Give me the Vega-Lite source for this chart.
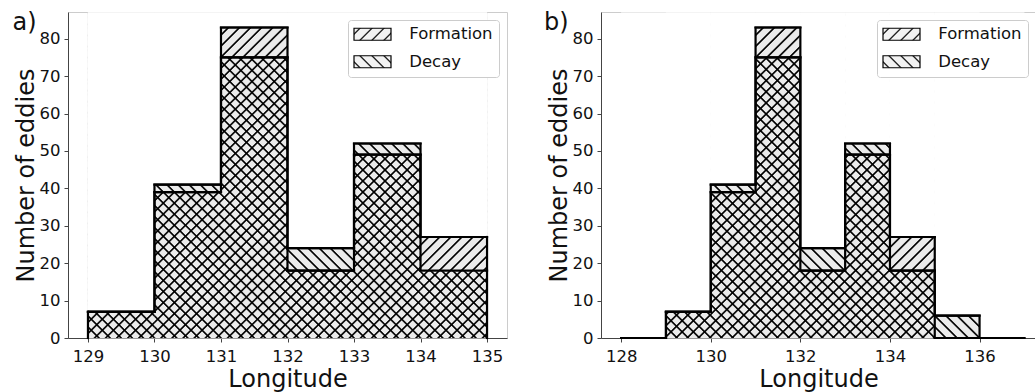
{
"$schema":"https://vega.github.io/schema/vega-lite/v6.json",
"padding":{"left":12,"top":10,"right":0,"bottom":0},
"params":[
{"name":"legF","value":{"gradient":"linear","x1":0,"y1":0,"x2":1.1983,"y2":0.3886,"stops":[{"offset":0,"color":"#f2f2f2"},{"offset":0.0885,"color":"#f2f2f2"},{"offset":0.1225,"color":"#000"},{"offset":0.1565,"color":"#f2f2f2"},{"offset":0.3334,"color":"#f2f2f2"},{"offset":0.3674,"color":"#000"},{"offset":0.4014,"color":"#f2f2f2"},{"offset":0.5783,"color":"#f2f2f2"},{"offset":0.6123,"color":"#000"},{"offset":0.6463,"color":"#f2f2f2"},{"offset":0.8232,"color":"#f2f2f2"},{"offset":0.8572,"color":"#000"},{"offset":0.8912,"color":"#f2f2f2"},{"offset":1,"color":"#f2f2f2"}]}},
{"name":"legD","value":{"gradient":"linear","x1":0,"y1":1,"x2":1.1983,"y2":0.6114,"stops":[{"offset":0,"color":"#f2f2f2"},{"offset":0.0885,"color":"#f2f2f2"},{"offset":0.1225,"color":"#000"},{"offset":0.1565,"color":"#f2f2f2"},{"offset":0.3334,"color":"#f2f2f2"},{"offset":0.3674,"color":"#000"},{"offset":0.4014,"color":"#f2f2f2"},{"offset":0.5783,"color":"#f2f2f2"},{"offset":0.6123,"color":"#000"},{"offset":0.6463,"color":"#f2f2f2"},{"offset":0.8232,"color":"#f2f2f2"},{"offset":0.8572,"color":"#000"},{"offset":0.8912,"color":"#f2f2f2"},{"offset":1,"color":"#f2f2f2"}]}},
{"name":"fsA","value":{"gradient":"linear","x1":0,"y1":0,"x2":0.23585,"y2":1.15593,"stops":[
{"offset":0,"color":"#000"},{"offset":0.0044,"color":"rgba(0,0,0,0)"},
{"offset":0.0238,"color":"rgba(0,0,0,0)"},{"offset":0.0282,"color":"#000"},{"offset":0.0326,"color":"rgba(0,0,0,0)"},
{"offset":0.0521,"color":"rgba(0,0,0,0)"},{"offset":0.0565,"color":"#000"},{"offset":0.0609,"color":"rgba(0,0,0,0)"},
{"offset":0.0803,"color":"rgba(0,0,0,0)"},{"offset":0.0847,"color":"#000"},{"offset":0.0891,"color":"rgba(0,0,0,0)"},
{"offset":0.1086,"color":"rgba(0,0,0,0)"},{"offset":0.1130,"color":"#000"},{"offset":0.1174,"color":"rgba(0,0,0,0)"},
{"offset":0.1368,"color":"rgba(0,0,0,0)"},{"offset":0.1412,"color":"#000"},{"offset":0.1456,"color":"rgba(0,0,0,0)"},
{"offset":0.1651,"color":"rgba(0,0,0,0)"},{"offset":0.1695,"color":"#000"},{"offset":0.1739,"color":"rgba(0,0,0,0)"},
{"offset":0.1933,"color":"rgba(0,0,0,0)"},{"offset":0.1977,"color":"#000"},{"offset":0.2021,"color":"rgba(0,0,0,0)"},
{"offset":0.2215,"color":"rgba(0,0,0,0)"},{"offset":0.2259,"color":"#000"},{"offset":0.2303,"color":"rgba(0,0,0,0)"},
{"offset":0.2498,"color":"rgba(0,0,0,0)"},{"offset":0.2542,"color":"#000"},{"offset":0.2586,"color":"rgba(0,0,0,0)"},
{"offset":0.2780,"color":"rgba(0,0,0,0)"},{"offset":0.2824,"color":"#000"},{"offset":0.2868,"color":"rgba(0,0,0,0)"},
{"offset":0.3063,"color":"rgba(0,0,0,0)"},{"offset":0.3107,"color":"#000"},{"offset":0.3151,"color":"rgba(0,0,0,0)"},
{"offset":0.3345,"color":"rgba(0,0,0,0)"},{"offset":0.3389,"color":"#000"},{"offset":0.3433,"color":"rgba(0,0,0,0)"},
{"offset":0.3628,"color":"rgba(0,0,0,0)"},{"offset":0.3672,"color":"#000"},{"offset":0.3716,"color":"rgba(0,0,0,0)"},
{"offset":0.3910,"color":"rgba(0,0,0,0)"},{"offset":0.3954,"color":"#000"},{"offset":0.3998,"color":"rgba(0,0,0,0)"},
{"offset":0.4192,"color":"rgba(0,0,0,0)"},{"offset":0.4236,"color":"#000"},{"offset":0.4280,"color":"rgba(0,0,0,0)"},
{"offset":0.4475,"color":"rgba(0,0,0,0)"},{"offset":0.4519,"color":"#000"},{"offset":0.4563,"color":"rgba(0,0,0,0)"},
{"offset":0.4757,"color":"rgba(0,0,0,0)"},{"offset":0.4801,"color":"#000"},{"offset":0.4845,"color":"rgba(0,0,0,0)"},
{"offset":0.5040,"color":"rgba(0,0,0,0)"},{"offset":0.5084,"color":"#000"},{"offset":0.5128,"color":"rgba(0,0,0,0)"},
{"offset":0.5322,"color":"rgba(0,0,0,0)"},{"offset":0.5366,"color":"#000"},{"offset":0.5410,"color":"rgba(0,0,0,0)"},
{"offset":0.5605,"color":"rgba(0,0,0,0)"},{"offset":0.5649,"color":"#000"},{"offset":0.5693,"color":"rgba(0,0,0,0)"},
{"offset":0.5887,"color":"rgba(0,0,0,0)"},{"offset":0.5931,"color":"#000"},{"offset":0.5975,"color":"rgba(0,0,0,0)"},
{"offset":0.6169,"color":"rgba(0,0,0,0)"},{"offset":0.6213,"color":"#000"},{"offset":0.6257,"color":"rgba(0,0,0,0)"},
{"offset":0.6452,"color":"rgba(0,0,0,0)"},{"offset":0.6496,"color":"#000"},{"offset":0.6540,"color":"rgba(0,0,0,0)"},
{"offset":0.6734,"color":"rgba(0,0,0,0)"},{"offset":0.6778,"color":"#000"},{"offset":0.6822,"color":"rgba(0,0,0,0)"},
{"offset":0.7017,"color":"rgba(0,0,0,0)"},{"offset":0.7061,"color":"#000"},{"offset":0.7105,"color":"rgba(0,0,0,0)"},
{"offset":0.7299,"color":"rgba(0,0,0,0)"},{"offset":0.7343,"color":"#000"},{"offset":0.7387,"color":"rgba(0,0,0,0)"},
{"offset":0.7582,"color":"rgba(0,0,0,0)"},{"offset":0.7626,"color":"#000"},{"offset":0.7670,"color":"rgba(0,0,0,0)"},
{"offset":0.7864,"color":"rgba(0,0,0,0)"},{"offset":0.7908,"color":"#000"},{"offset":0.7952,"color":"rgba(0,0,0,0)"},
{"offset":0.8146,"color":"rgba(0,0,0,0)"},{"offset":0.8190,"color":"#000"},{"offset":0.8234,"color":"rgba(0,0,0,0)"},
{"offset":0.8429,"color":"rgba(0,0,0,0)"},{"offset":0.8473,"color":"#000"},{"offset":0.8517,"color":"rgba(0,0,0,0)"},
{"offset":0.8711,"color":"rgba(0,0,0,0)"},{"offset":0.8755,"color":"#000"},{"offset":0.8799,"color":"rgba(0,0,0,0)"},
{"offset":0.8994,"color":"rgba(0,0,0,0)"},{"offset":0.9038,"color":"#000"},{"offset":0.9082,"color":"rgba(0,0,0,0)"},
{"offset":0.9276,"color":"rgba(0,0,0,0)"},{"offset":0.9320,"color":"#000"},{"offset":0.9364,"color":"rgba(0,0,0,0)"},
{"offset":0.9559,"color":"rgba(0,0,0,0)"},{"offset":0.9603,"color":"#000"},{"offset":0.9647,"color":"rgba(0,0,0,0)"},
{"offset":0.9841,"color":"rgba(0,0,0,0)"},{"offset":0.9885,"color":"#000"},{"offset":0.9929,"color":"rgba(0,0,0,0)"},
{"offset":1,"color":"rgba(0,0,0,0)"}]}},
{"name":"bsA","value":{"gradient":"linear","x1":0,"y1":1,"x2":0.23585,"y2":-0.15593,"stops":[
{"offset":0,"color":"#000"},{"offset":0.0044,"color":"rgba(0,0,0,0)"},
{"offset":0.0238,"color":"rgba(0,0,0,0)"},{"offset":0.0282,"color":"#000"},{"offset":0.0326,"color":"rgba(0,0,0,0)"},
{"offset":0.0521,"color":"rgba(0,0,0,0)"},{"offset":0.0565,"color":"#000"},{"offset":0.0609,"color":"rgba(0,0,0,0)"},
{"offset":0.0803,"color":"rgba(0,0,0,0)"},{"offset":0.0847,"color":"#000"},{"offset":0.0891,"color":"rgba(0,0,0,0)"},
{"offset":0.1086,"color":"rgba(0,0,0,0)"},{"offset":0.1130,"color":"#000"},{"offset":0.1174,"color":"rgba(0,0,0,0)"},
{"offset":0.1368,"color":"rgba(0,0,0,0)"},{"offset":0.1412,"color":"#000"},{"offset":0.1456,"color":"rgba(0,0,0,0)"},
{"offset":0.1651,"color":"rgba(0,0,0,0)"},{"offset":0.1695,"color":"#000"},{"offset":0.1739,"color":"rgba(0,0,0,0)"},
{"offset":0.1933,"color":"rgba(0,0,0,0)"},{"offset":0.1977,"color":"#000"},{"offset":0.2021,"color":"rgba(0,0,0,0)"},
{"offset":0.2215,"color":"rgba(0,0,0,0)"},{"offset":0.2259,"color":"#000"},{"offset":0.2303,"color":"rgba(0,0,0,0)"},
{"offset":0.2498,"color":"rgba(0,0,0,0)"},{"offset":0.2542,"color":"#000"},{"offset":0.2586,"color":"rgba(0,0,0,0)"},
{"offset":0.2780,"color":"rgba(0,0,0,0)"},{"offset":0.2824,"color":"#000"},{"offset":0.2868,"color":"rgba(0,0,0,0)"},
{"offset":0.3063,"color":"rgba(0,0,0,0)"},{"offset":0.3107,"color":"#000"},{"offset":0.3151,"color":"rgba(0,0,0,0)"},
{"offset":0.3345,"color":"rgba(0,0,0,0)"},{"offset":0.3389,"color":"#000"},{"offset":0.3433,"color":"rgba(0,0,0,0)"},
{"offset":0.3628,"color":"rgba(0,0,0,0)"},{"offset":0.3672,"color":"#000"},{"offset":0.3716,"color":"rgba(0,0,0,0)"},
{"offset":0.3910,"color":"rgba(0,0,0,0)"},{"offset":0.3954,"color":"#000"},{"offset":0.3998,"color":"rgba(0,0,0,0)"},
{"offset":0.4192,"color":"rgba(0,0,0,0)"},{"offset":0.4236,"color":"#000"},{"offset":0.4280,"color":"rgba(0,0,0,0)"},
{"offset":0.4475,"color":"rgba(0,0,0,0)"},{"offset":0.4519,"color":"#000"},{"offset":0.4563,"color":"rgba(0,0,0,0)"},
{"offset":0.4757,"color":"rgba(0,0,0,0)"},{"offset":0.4801,"color":"#000"},{"offset":0.4845,"color":"rgba(0,0,0,0)"},
{"offset":0.5040,"color":"rgba(0,0,0,0)"},{"offset":0.5084,"color":"#000"},{"offset":0.5128,"color":"rgba(0,0,0,0)"},
{"offset":0.5322,"color":"rgba(0,0,0,0)"},{"offset":0.5366,"color":"#000"},{"offset":0.5410,"color":"rgba(0,0,0,0)"},
{"offset":0.5605,"color":"rgba(0,0,0,0)"},{"offset":0.5649,"color":"#000"},{"offset":0.5693,"color":"rgba(0,0,0,0)"},
{"offset":0.5887,"color":"rgba(0,0,0,0)"},{"offset":0.5931,"color":"#000"},{"offset":0.5975,"color":"rgba(0,0,0,0)"},
{"offset":0.6169,"color":"rgba(0,0,0,0)"},{"offset":0.6213,"color":"#000"},{"offset":0.6257,"color":"rgba(0,0,0,0)"},
{"offset":0.6452,"color":"rgba(0,0,0,0)"},{"offset":0.6496,"color":"#000"},{"offset":0.6540,"color":"rgba(0,0,0,0)"},
{"offset":0.6734,"color":"rgba(0,0,0,0)"},{"offset":0.6778,"color":"#000"},{"offset":0.6822,"color":"rgba(0,0,0,0)"},
{"offset":0.7017,"color":"rgba(0,0,0,0)"},{"offset":0.7061,"color":"#000"},{"offset":0.7105,"color":"rgba(0,0,0,0)"},
{"offset":0.7299,"color":"rgba(0,0,0,0)"},{"offset":0.7343,"color":"#000"},{"offset":0.7387,"color":"rgba(0,0,0,0)"},
{"offset":0.7582,"color":"rgba(0,0,0,0)"},{"offset":0.7626,"color":"#000"},{"offset":0.7670,"color":"rgba(0,0,0,0)"},
{"offset":0.7864,"color":"rgba(0,0,0,0)"},{"offset":0.7908,"color":"#000"},{"offset":0.7952,"color":"rgba(0,0,0,0)"},
{"offset":0.8146,"color":"rgba(0,0,0,0)"},{"offset":0.8190,"color":"#000"},{"offset":0.8234,"color":"rgba(0,0,0,0)"},
{"offset":0.8429,"color":"rgba(0,0,0,0)"},{"offset":0.8473,"color":"#000"},{"offset":0.8517,"color":"rgba(0,0,0,0)"},
{"offset":0.8711,"color":"rgba(0,0,0,0)"},{"offset":0.8755,"color":"#000"},{"offset":0.8799,"color":"rgba(0,0,0,0)"},
{"offset":0.8994,"color":"rgba(0,0,0,0)"},{"offset":0.9038,"color":"#000"},{"offset":0.9082,"color":"rgba(0,0,0,0)"},
{"offset":0.9276,"color":"rgba(0,0,0,0)"},{"offset":0.9320,"color":"#000"},{"offset":0.9364,"color":"rgba(0,0,0,0)"},
{"offset":0.9559,"color":"rgba(0,0,0,0)"},{"offset":0.9603,"color":"#000"},{"offset":0.9647,"color":"rgba(0,0,0,0)"},
{"offset":0.9841,"color":"rgba(0,0,0,0)"},{"offset":0.9885,"color":"#000"},{"offset":0.9929,"color":"rgba(0,0,0,0)"},
{"offset":1,"color":"rgba(0,0,0,0)"}]}},
{"name":"fsB","value":{"gradient":"linear","x1":0,"y1":0,"x2":0.15341,"y2":1.11632,"stops":[
{"offset":0,"color":"#000"},{"offset":0.0047,"color":"rgba(0,0,0,0)"},
{"offset":0.0255,"color":"rgba(0,0,0,0)"},{"offset":0.0302,"color":"#000"},{"offset":0.0349,"color":"rgba(0,0,0,0)"},
{"offset":0.0557,"color":"rgba(0,0,0,0)"},{"offset":0.0604,"color":"#000"},{"offset":0.0651,"color":"rgba(0,0,0,0)"},
{"offset":0.0859,"color":"rgba(0,0,0,0)"},{"offset":0.0906,"color":"#000"},{"offset":0.0953,"color":"rgba(0,0,0,0)"},
{"offset":0.1161,"color":"rgba(0,0,0,0)"},{"offset":0.1208,"color":"#000"},{"offset":0.1255,"color":"rgba(0,0,0,0)"},
{"offset":0.1463,"color":"rgba(0,0,0,0)"},{"offset":0.1510,"color":"#000"},{"offset":0.1557,"color":"rgba(0,0,0,0)"},
{"offset":0.1765,"color":"rgba(0,0,0,0)"},{"offset":0.1812,"color":"#000"},{"offset":0.1859,"color":"rgba(0,0,0,0)"},
{"offset":0.2067,"color":"rgba(0,0,0,0)"},{"offset":0.2114,"color":"#000"},{"offset":0.2161,"color":"rgba(0,0,0,0)"},
{"offset":0.2369,"color":"rgba(0,0,0,0)"},{"offset":0.2416,"color":"#000"},{"offset":0.2463,"color":"rgba(0,0,0,0)"},
{"offset":0.2671,"color":"rgba(0,0,0,0)"},{"offset":0.2718,"color":"#000"},{"offset":0.2765,"color":"rgba(0,0,0,0)"},
{"offset":0.2974,"color":"rgba(0,0,0,0)"},{"offset":0.3021,"color":"#000"},{"offset":0.3068,"color":"rgba(0,0,0,0)"},
{"offset":0.3276,"color":"rgba(0,0,0,0)"},{"offset":0.3323,"color":"#000"},{"offset":0.3370,"color":"rgba(0,0,0,0)"},
{"offset":0.3578,"color":"rgba(0,0,0,0)"},{"offset":0.3625,"color":"#000"},{"offset":0.3672,"color":"rgba(0,0,0,0)"},
{"offset":0.3880,"color":"rgba(0,0,0,0)"},{"offset":0.3927,"color":"#000"},{"offset":0.3974,"color":"rgba(0,0,0,0)"},
{"offset":0.4182,"color":"rgba(0,0,0,0)"},{"offset":0.4229,"color":"#000"},{"offset":0.4276,"color":"rgba(0,0,0,0)"},
{"offset":0.4484,"color":"rgba(0,0,0,0)"},{"offset":0.4531,"color":"#000"},{"offset":0.4578,"color":"rgba(0,0,0,0)"},
{"offset":0.4786,"color":"rgba(0,0,0,0)"},{"offset":0.4833,"color":"#000"},{"offset":0.4880,"color":"rgba(0,0,0,0)"},
{"offset":0.5088,"color":"rgba(0,0,0,0)"},{"offset":0.5135,"color":"#000"},{"offset":0.5182,"color":"rgba(0,0,0,0)"},
{"offset":0.5390,"color":"rgba(0,0,0,0)"},{"offset":0.5437,"color":"#000"},{"offset":0.5484,"color":"rgba(0,0,0,0)"},
{"offset":0.5692,"color":"rgba(0,0,0,0)"},{"offset":0.5739,"color":"#000"},{"offset":0.5786,"color":"rgba(0,0,0,0)"},
{"offset":0.5994,"color":"rgba(0,0,0,0)"},{"offset":0.6041,"color":"#000"},{"offset":0.6088,"color":"rgba(0,0,0,0)"},
{"offset":0.6296,"color":"rgba(0,0,0,0)"},{"offset":0.6343,"color":"#000"},{"offset":0.6390,"color":"rgba(0,0,0,0)"},
{"offset":0.6598,"color":"rgba(0,0,0,0)"},{"offset":0.6645,"color":"#000"},{"offset":0.6692,"color":"rgba(0,0,0,0)"},
{"offset":0.6900,"color":"rgba(0,0,0,0)"},{"offset":0.6947,"color":"#000"},{"offset":0.6994,"color":"rgba(0,0,0,0)"},
{"offset":0.7202,"color":"rgba(0,0,0,0)"},{"offset":0.7249,"color":"#000"},{"offset":0.7296,"color":"rgba(0,0,0,0)"},
{"offset":0.7504,"color":"rgba(0,0,0,0)"},{"offset":0.7551,"color":"#000"},{"offset":0.7598,"color":"rgba(0,0,0,0)"},
{"offset":0.7806,"color":"rgba(0,0,0,0)"},{"offset":0.7853,"color":"#000"},{"offset":0.7900,"color":"rgba(0,0,0,0)"},
{"offset":0.8108,"color":"rgba(0,0,0,0)"},{"offset":0.8155,"color":"#000"},{"offset":0.8202,"color":"rgba(0,0,0,0)"},
{"offset":0.8410,"color":"rgba(0,0,0,0)"},{"offset":0.8457,"color":"#000"},{"offset":0.8504,"color":"rgba(0,0,0,0)"},
{"offset":0.8712,"color":"rgba(0,0,0,0)"},{"offset":0.8759,"color":"#000"},{"offset":0.8806,"color":"rgba(0,0,0,0)"},
{"offset":0.9015,"color":"rgba(0,0,0,0)"},{"offset":0.9062,"color":"#000"},{"offset":0.9109,"color":"rgba(0,0,0,0)"},
{"offset":0.9317,"color":"rgba(0,0,0,0)"},{"offset":0.9364,"color":"#000"},{"offset":0.9411,"color":"rgba(0,0,0,0)"},
{"offset":0.9619,"color":"rgba(0,0,0,0)"},{"offset":0.9666,"color":"#000"},{"offset":0.9713,"color":"rgba(0,0,0,0)"},
{"offset":0.9921,"color":"rgba(0,0,0,0)"},{"offset":0.9968,"color":"#000"},{"offset":1,"color":"rgba(0,0,0,0)"}]}},
{"name":"bsB","value":{"gradient":"linear","x1":0,"y1":1,"x2":0.15341,"y2":-0.11632,"stops":[
{"offset":0,"color":"#000"},{"offset":0.0047,"color":"rgba(0,0,0,0)"},
{"offset":0.0255,"color":"rgba(0,0,0,0)"},{"offset":0.0302,"color":"#000"},{"offset":0.0349,"color":"rgba(0,0,0,0)"},
{"offset":0.0557,"color":"rgba(0,0,0,0)"},{"offset":0.0604,"color":"#000"},{"offset":0.0651,"color":"rgba(0,0,0,0)"},
{"offset":0.0859,"color":"rgba(0,0,0,0)"},{"offset":0.0906,"color":"#000"},{"offset":0.0953,"color":"rgba(0,0,0,0)"},
{"offset":0.1161,"color":"rgba(0,0,0,0)"},{"offset":0.1208,"color":"#000"},{"offset":0.1255,"color":"rgba(0,0,0,0)"},
{"offset":0.1463,"color":"rgba(0,0,0,0)"},{"offset":0.1510,"color":"#000"},{"offset":0.1557,"color":"rgba(0,0,0,0)"},
{"offset":0.1765,"color":"rgba(0,0,0,0)"},{"offset":0.1812,"color":"#000"},{"offset":0.1859,"color":"rgba(0,0,0,0)"},
{"offset":0.2067,"color":"rgba(0,0,0,0)"},{"offset":0.2114,"color":"#000"},{"offset":0.2161,"color":"rgba(0,0,0,0)"},
{"offset":0.2369,"color":"rgba(0,0,0,0)"},{"offset":0.2416,"color":"#000"},{"offset":0.2463,"color":"rgba(0,0,0,0)"},
{"offset":0.2671,"color":"rgba(0,0,0,0)"},{"offset":0.2718,"color":"#000"},{"offset":0.2765,"color":"rgba(0,0,0,0)"},
{"offset":0.2974,"color":"rgba(0,0,0,0)"},{"offset":0.3021,"color":"#000"},{"offset":0.3068,"color":"rgba(0,0,0,0)"},
{"offset":0.3276,"color":"rgba(0,0,0,0)"},{"offset":0.3323,"color":"#000"},{"offset":0.3370,"color":"rgba(0,0,0,0)"},
{"offset":0.3578,"color":"rgba(0,0,0,0)"},{"offset":0.3625,"color":"#000"},{"offset":0.3672,"color":"rgba(0,0,0,0)"},
{"offset":0.3880,"color":"rgba(0,0,0,0)"},{"offset":0.3927,"color":"#000"},{"offset":0.3974,"color":"rgba(0,0,0,0)"},
{"offset":0.4182,"color":"rgba(0,0,0,0)"},{"offset":0.4229,"color":"#000"},{"offset":0.4276,"color":"rgba(0,0,0,0)"},
{"offset":0.4484,"color":"rgba(0,0,0,0)"},{"offset":0.4531,"color":"#000"},{"offset":0.4578,"color":"rgba(0,0,0,0)"},
{"offset":0.4786,"color":"rgba(0,0,0,0)"},{"offset":0.4833,"color":"#000"},{"offset":0.4880,"color":"rgba(0,0,0,0)"},
{"offset":0.5088,"color":"rgba(0,0,0,0)"},{"offset":0.5135,"color":"#000"},{"offset":0.5182,"color":"rgba(0,0,0,0)"},
{"offset":0.5390,"color":"rgba(0,0,0,0)"},{"offset":0.5437,"color":"#000"},{"offset":0.5484,"color":"rgba(0,0,0,0)"},
{"offset":0.5692,"color":"rgba(0,0,0,0)"},{"offset":0.5739,"color":"#000"},{"offset":0.5786,"color":"rgba(0,0,0,0)"},
{"offset":0.5994,"color":"rgba(0,0,0,0)"},{"offset":0.6041,"color":"#000"},{"offset":0.6088,"color":"rgba(0,0,0,0)"},
{"offset":0.6296,"color":"rgba(0,0,0,0)"},{"offset":0.6343,"color":"#000"},{"offset":0.6390,"color":"rgba(0,0,0,0)"},
{"offset":0.6598,"color":"rgba(0,0,0,0)"},{"offset":0.6645,"color":"#000"},{"offset":0.6692,"color":"rgba(0,0,0,0)"},
{"offset":0.6900,"color":"rgba(0,0,0,0)"},{"offset":0.6947,"color":"#000"},{"offset":0.6994,"color":"rgba(0,0,0,0)"},
{"offset":0.7202,"color":"rgba(0,0,0,0)"},{"offset":0.7249,"color":"#000"},{"offset":0.7296,"color":"rgba(0,0,0,0)"},
{"offset":0.7504,"color":"rgba(0,0,0,0)"},{"offset":0.7551,"color":"#000"},{"offset":0.7598,"color":"rgba(0,0,0,0)"},
{"offset":0.7806,"color":"rgba(0,0,0,0)"},{"offset":0.7853,"color":"#000"},{"offset":0.7900,"color":"rgba(0,0,0,0)"},
{"offset":0.8108,"color":"rgba(0,0,0,0)"},{"offset":0.8155,"color":"#000"},{"offset":0.8202,"color":"rgba(0,0,0,0)"},
{"offset":0.8410,"color":"rgba(0,0,0,0)"},{"offset":0.8457,"color":"#000"},{"offset":0.8504,"color":"rgba(0,0,0,0)"},
{"offset":0.8712,"color":"rgba(0,0,0,0)"},{"offset":0.8759,"color":"#000"},{"offset":0.8806,"color":"rgba(0,0,0,0)"},
{"offset":0.9015,"color":"rgba(0,0,0,0)"},{"offset":0.9062,"color":"#000"},{"offset":0.9109,"color":"rgba(0,0,0,0)"},
{"offset":0.9317,"color":"rgba(0,0,0,0)"},{"offset":0.9364,"color":"#000"},{"offset":0.9411,"color":"rgba(0,0,0,0)"},
{"offset":0.9619,"color":"rgba(0,0,0,0)"},{"offset":0.9666,"color":"#000"},{"offset":0.9713,"color":"rgba(0,0,0,0)"},
{"offset":0.9921,"color":"rgba(0,0,0,0)"},{"offset":0.9968,"color":"#000"},{"offset":1,"color":"rgba(0,0,0,0)"}]}}
],
"datasets":{
"a":[
{"start":129,"end":130,"F":7,"D":7},
{"start":130,"end":131,"F":39,"D":41},
{"start":131,"end":132,"F":83,"D":75},
{"start":132,"end":133,"F":18,"D":24},
{"start":133,"end":134,"F":49,"D":52},
{"start":134,"end":135,"F":27,"D":18}
],
"b":[
{"start":128,"end":129,"F":0,"D":0},
{"start":129,"end":130,"F":7,"D":7},
{"start":130,"end":131,"F":39,"D":41},
{"start":131,"end":132,"F":83,"D":75},
{"start":132,"end":133,"F":18,"D":24},
{"start":133,"end":134,"F":49,"D":52},
{"start":134,"end":135,"F":27,"D":18},
{"start":135,"end":136,"F":0,"D":6},
{"start":136,"end":137,"F":0,"D":0}
]
},
"spacing":35,
"resolve":{"scale":{"x":"independent","y":"independent","fill":"independent"},"legend":{"fill":"independent"}},
"hconcat":[
{
"width":439,"height":326,
"data":{"name":"a"},
"encoding":{"x":{"field":"start","type":"quantitative","title":"Longitude","scale":{"domain":[128.7,135.3],"nice":false,"zero":false},"axis":{"values":[129,130,131,132,133,134,135],"format":"d"}}},
"layer":[
{"transform":[{"filter":"datum.F > 0 || datum.D > 0"}],"mark":{"type":"rect","fill":"#ebebeb","stroke":"#ebebeb","strokeWidth":1},
 "encoding":{"x2":{"field":"end"},"y":{"datum":0,"type":"quantitative","title":"Number of eddies","scale":{"domain":[0,87.15],"nice":false},"axis":{"values":[0,10,20,30,40,50,60,70,80]}},"y2":{"datum":86.9}}},
{"transform":[{"filter":"datum.F >= datum.D && datum.F > 0"}],"mark":{"type":"rect","fill":{"expr":"bsA"}},
 "encoding":{"x2":{"field":"end"},"y":{"datum":0,"type":"quantitative","title":"Number of eddies"},"y2":{"datum":86.9}}},
{"transform":[{"filter":"datum.F >= datum.D && datum.F > 0"}],"mark":{"type":"rect","fill":{"expr":"bsA"}},
 "encoding":{"x2":{"field":"end"},"y":{"datum":0,"type":"quantitative","title":"Number of eddies"},"y2":{"datum":86.9}}},
{"transform":[{"filter":"datum.D > datum.F"}],"mark":{"type":"rect","fill":{"expr":"fsA"}},
 "encoding":{"x2":{"field":"end"},"y":{"datum":0,"type":"quantitative","title":"Number of eddies"},"y2":{"datum":86.9}}},
{"transform":[{"filter":"datum.D > datum.F"}],"mark":{"type":"rect","fill":{"expr":"fsA"}},
 "encoding":{"x2":{"field":"end"},"y":{"datum":0,"type":"quantitative","title":"Number of eddies"},"y2":{"datum":86.9}}},
{"transform":[{"filter":"datum.F >= datum.D && datum.F > 0"}],"mark":{"type":"rect","fill":"#ebebeb","stroke":"#ebebeb","strokeWidth":1},
 "encoding":{"x2":{"field":"end"},"y":{"field":"D","type":"quantitative","title":"Number of eddies"},"y2":{"datum":86.9}}},
{"transform":[{"filter":"datum.D > datum.F"}],"mark":{"type":"rect","fill":"#ebebeb","stroke":"#ebebeb","strokeWidth":1},
 "encoding":{"x2":{"field":"end"},"y":{"field":"F","type":"quantitative","title":"Number of eddies"},"y2":{"datum":86.9}}},
{"transform":[{"filter":"datum.F >= datum.D && datum.F > 0"}],"mark":{"type":"rect","fill":{"expr":"fsA"}},
 "encoding":{"x2":{"field":"end"},"y":{"datum":0,"type":"quantitative","title":"Number of eddies"},"y2":{"datum":86.9}}},
{"transform":[{"filter":"datum.F >= datum.D && datum.F > 0"}],"mark":{"type":"rect","fill":{"expr":"fsA"}},
 "encoding":{"x2":{"field":"end"},"y":{"datum":0,"type":"quantitative","title":"Number of eddies"},"y2":{"datum":86.9}}},
{"transform":[{"filter":"datum.D > datum.F"}],"mark":{"type":"rect","fill":{"expr":"bsA"}},
 "encoding":{"x2":{"field":"end"},"y":{"datum":0,"type":"quantitative","title":"Number of eddies"},"y2":{"datum":86.9}}},
{"transform":[{"filter":"datum.D > datum.F"}],"mark":{"type":"rect","fill":{"expr":"bsA"}},
 "encoding":{"x2":{"field":"end"},"y":{"datum":0,"type":"quantitative","title":"Number of eddies"},"y2":{"datum":86.9}}},
{"transform":[{"filter":"datum.F >= datum.D"}],"mark":{"type":"rect","fill":"#ffffff","stroke":"#ffffff","strokeWidth":1},
 "encoding":{"x2":{"field":"end"},"y":{"field":"F","type":"quantitative","title":"Number of eddies"},"y2":{"datum":86.9}}},
{"transform":[{"filter":"datum.D > datum.F"}],"mark":{"type":"rect","fill":"#ffffff","stroke":"#ffffff","strokeWidth":1},
 "encoding":{"x2":{"field":"end"},"y":{"field":"D","type":"quantitative","title":"Number of eddies"},"y2":{"datum":86.9}}},
{"mark":{"type":"rect"},
 "encoding":{"x2":{"field":"end"},"y":{"field":"F","type":"quantitative","title":"Number of eddies"},"y2":{"field":"F"},
  "fill":{"datum":"Formation","type":"nominal","scale":{"domain":["Formation","Decay"],"range":[{"expr":"legF"},{"expr":"legD"}]},
  "legend":{"title":null,"orient":"top-right","offset":8,"padding":6,"fillColor":"#ffffff","strokeColor":"#cccccc","cornerRadius":3,"labelFont":"DejaVu Sans","labelFontSize":16.5,"labelColor":"#111111","labelOffset":28.5,"symbolOffset":10.25,"symbolType":"M-3.083,-1H3.083V1H-3.083Z","symbolSize":144,"symbolStrokeColor":"#000000","symbolStrokeWidth":1.2,"symbolOpacity":1,"rowPadding":9.5}}}},
{"mark":{"type":"rect"},
 "encoding":{"x2":{"field":"end"},"y":{"field":"F","type":"quantitative","title":"Number of eddies"},"y2":{"field":"F"},"fill":{"datum":"Decay","type":"nominal"}}},
{"mark":{"type":"rule","color":"#000000","strokeWidth":2.2,"strokeCap":"square"},
 "encoding":{"x2":{"field":"end"},"y":{"field":"F","type":"quantitative","title":"Number of eddies"}}},
{"mark":{"type":"rule","color":"#000000","strokeWidth":2.2,"strokeCap":"square"},
 "encoding":{"x2":{"field":"end"},"y":{"field":"D","type":"quantitative","title":"Number of eddies"}}},
{"mark":{"type":"line","color":"#000000","strokeWidth":2.2,"interpolate":"step-after"},
 "encoding":{"y":{"field":"F","type":"quantitative","title":"Number of eddies"}}},
{"mark":{"type":"line","color":"#000000","strokeWidth":2.2,"interpolate":"step-after"},
 "encoding":{"y":{"field":"D","type":"quantitative","title":"Number of eddies"}}},
{"transform":[{"filter":"datum.start == 129"}],"mark":{"type":"rule","color":"#000000","strokeWidth":2.2,"strokeCap":"square"},
 "encoding":{"y":{"field":"F","type":"quantitative","title":"Number of eddies"},"y2":{"datum":0}}},
{"transform":[{"filter":"datum.start == 134"}],"mark":{"type":"rule","color":"#000000","strokeWidth":2.2,"strokeCap":"square"},
 "encoding":{"x":{"field":"end","type":"quantitative","title":"Longitude"},"y":{"field":"F","type":"quantitative","title":"Number of eddies"},"y2":{"datum":0}}},
{"transform":[{"filter":"datum.start == 129"}],"mark":{"type":"text","text":"a)","align":"left","baseline":"alphabetic","fontSize":24,"font":"DejaVu Sans","color":"#111111","clip":false},
 "encoding":{"x":{"datum":127.866,"type":"quantitative","title":"Longitude"},"y":{"datum":82.34,"type":"quantitative","title":"Number of eddies"}}}
]
},
{
"width":435,"height":326,
"data":{"name":"b"},
"encoding":{"x":{"field":"start","type":"quantitative","title":"Longitude","scale":{"domain":[127.55,137.26],"nice":false,"zero":false},"axis":{"values":[128,130,132,134,136],"format":"d"}}},
"layer":[
{"transform":[{"filter":"datum.F > 0 || datum.D > 0"}],"mark":{"type":"rect","fill":"#ebebeb","stroke":"#ebebeb","strokeWidth":1},
 "encoding":{"x2":{"field":"end"},"y":{"datum":0,"type":"quantitative","title":"Number of eddies","scale":{"domain":[0,87.15],"nice":false},"axis":{"values":[0,10,20,30,40,50,60,70,80]}},"y2":{"datum":86.9}}},
{"transform":[{"filter":"datum.F >= datum.D && datum.F > 0"}],"mark":{"type":"rect","fill":{"expr":"bsB"}},
 "encoding":{"x2":{"field":"end"},"y":{"datum":0,"type":"quantitative","title":"Number of eddies"},"y2":{"datum":86.9}}},
{"transform":[{"filter":"datum.F >= datum.D && datum.F > 0"}],"mark":{"type":"rect","fill":{"expr":"bsB"}},
 "encoding":{"x2":{"field":"end"},"y":{"datum":0,"type":"quantitative","title":"Number of eddies"},"y2":{"datum":86.9}}},
{"transform":[{"filter":"datum.D > datum.F"}],"mark":{"type":"rect","fill":{"expr":"fsB"}},
 "encoding":{"x2":{"field":"end"},"y":{"datum":0,"type":"quantitative","title":"Number of eddies"},"y2":{"datum":86.9}}},
{"transform":[{"filter":"datum.D > datum.F"}],"mark":{"type":"rect","fill":{"expr":"fsB"}},
 "encoding":{"x2":{"field":"end"},"y":{"datum":0,"type":"quantitative","title":"Number of eddies"},"y2":{"datum":86.9}}},
{"transform":[{"filter":"datum.F >= datum.D && datum.F > 0"}],"mark":{"type":"rect","fill":"#ebebeb","stroke":"#ebebeb","strokeWidth":1},
 "encoding":{"x2":{"field":"end"},"y":{"field":"D","type":"quantitative","title":"Number of eddies"},"y2":{"datum":86.9}}},
{"transform":[{"filter":"datum.D > datum.F"}],"mark":{"type":"rect","fill":"#ebebeb","stroke":"#ebebeb","strokeWidth":1},
 "encoding":{"x2":{"field":"end"},"y":{"field":"F","type":"quantitative","title":"Number of eddies"},"y2":{"datum":86.9}}},
{"transform":[{"filter":"datum.F >= datum.D && datum.F > 0"}],"mark":{"type":"rect","fill":{"expr":"fsB"}},
 "encoding":{"x2":{"field":"end"},"y":{"datum":0,"type":"quantitative","title":"Number of eddies"},"y2":{"datum":86.9}}},
{"transform":[{"filter":"datum.F >= datum.D && datum.F > 0"}],"mark":{"type":"rect","fill":{"expr":"fsB"}},
 "encoding":{"x2":{"field":"end"},"y":{"datum":0,"type":"quantitative","title":"Number of eddies"},"y2":{"datum":86.9}}},
{"transform":[{"filter":"datum.D > datum.F"}],"mark":{"type":"rect","fill":{"expr":"bsB"}},
 "encoding":{"x2":{"field":"end"},"y":{"datum":0,"type":"quantitative","title":"Number of eddies"},"y2":{"datum":86.9}}},
{"transform":[{"filter":"datum.D > datum.F"}],"mark":{"type":"rect","fill":{"expr":"bsB"}},
 "encoding":{"x2":{"field":"end"},"y":{"datum":0,"type":"quantitative","title":"Number of eddies"},"y2":{"datum":86.9}}},
{"transform":[{"filter":"datum.F >= datum.D"}],"mark":{"type":"rect","fill":"#ffffff","stroke":"#ffffff","strokeWidth":1},
 "encoding":{"x2":{"field":"end"},"y":{"field":"F","type":"quantitative","title":"Number of eddies"},"y2":{"datum":86.9}}},
{"transform":[{"filter":"datum.D > datum.F"}],"mark":{"type":"rect","fill":"#ffffff","stroke":"#ffffff","strokeWidth":1},
 "encoding":{"x2":{"field":"end"},"y":{"field":"D","type":"quantitative","title":"Number of eddies"},"y2":{"datum":86.9}}},
{"mark":{"type":"rect"},
 "encoding":{"x2":{"field":"end"},"y":{"field":"F","type":"quantitative","title":"Number of eddies"},"y2":{"field":"F"},
  "fill":{"datum":"Formation","type":"nominal","scale":{"domain":["Formation","Decay"],"range":[{"expr":"legF"},{"expr":"legD"}]},
  "legend":{"title":null,"orient":"top-right","offset":8,"padding":6,"fillColor":"#ffffff","strokeColor":"#cccccc","cornerRadius":3,"labelFont":"DejaVu Sans","labelFontSize":16.5,"labelColor":"#111111","labelOffset":28.5,"symbolOffset":10.25,"symbolType":"M-3.083,-1H3.083V1H-3.083Z","symbolSize":144,"symbolStrokeColor":"#000000","symbolStrokeWidth":1.2,"symbolOpacity":1,"rowPadding":9.5}}}},
{"mark":{"type":"rect"},
 "encoding":{"x2":{"field":"end"},"y":{"field":"F","type":"quantitative","title":"Number of eddies"},"y2":{"field":"F"},"fill":{"datum":"Decay","type":"nominal"}}},
{"mark":{"type":"rule","color":"#000000","strokeWidth":2.2,"strokeCap":"square"},
 "encoding":{"x2":{"field":"end"},"y":{"field":"F","type":"quantitative","title":"Number of eddies"}}},
{"mark":{"type":"rule","color":"#000000","strokeWidth":2.2,"strokeCap":"square"},
 "encoding":{"x2":{"field":"end"},"y":{"field":"D","type":"quantitative","title":"Number of eddies"}}},
{"mark":{"type":"line","color":"#000000","strokeWidth":2.2,"interpolate":"step-after"},
 "encoding":{"y":{"field":"F","type":"quantitative","title":"Number of eddies"}}},
{"mark":{"type":"line","color":"#000000","strokeWidth":2.2,"interpolate":"step-after"},
 "encoding":{"y":{"field":"D","type":"quantitative","title":"Number of eddies"}}},
{"transform":[{"filter":"datum.start == 129"}],"mark":{"type":"text","text":"b)","align":"left","baseline":"alphabetic","fontSize":24,"font":"DejaVu Sans","color":"#111111","clip":false},
 "encoding":{"x":{"datum":126.278,"type":"quantitative","title":"Longitude"},"y":{"datum":82.34,"type":"quantitative","title":"Number of eddies"}}}
]
}
],
"config":{
"font":"DejaVu Sans",
"view":{"stroke":"#cccccc","strokeWidth":1},
"axis":{"zindex":1,"domainColor":"#444444","domainWidth":1,"tickColor":"#444444","tickSize":4,"tickWidth":1,"labelFont":"DejaVu Sans","labelFontSize":16.5,"labelColor":"#111111","labelPadding":4,"titleFont":"DejaVu Sans","titleFontSize":24,"titleFontWeight":"normal","titleColor":"#111111","grid":false,"labelFlush":false,"labelOverlap":false},
"axisY":{"titlePadding":6,"titleBaseline":"alphabetic"},
"axisX":{"titlePadding":2,"labelPadding":6.5}
}
}
